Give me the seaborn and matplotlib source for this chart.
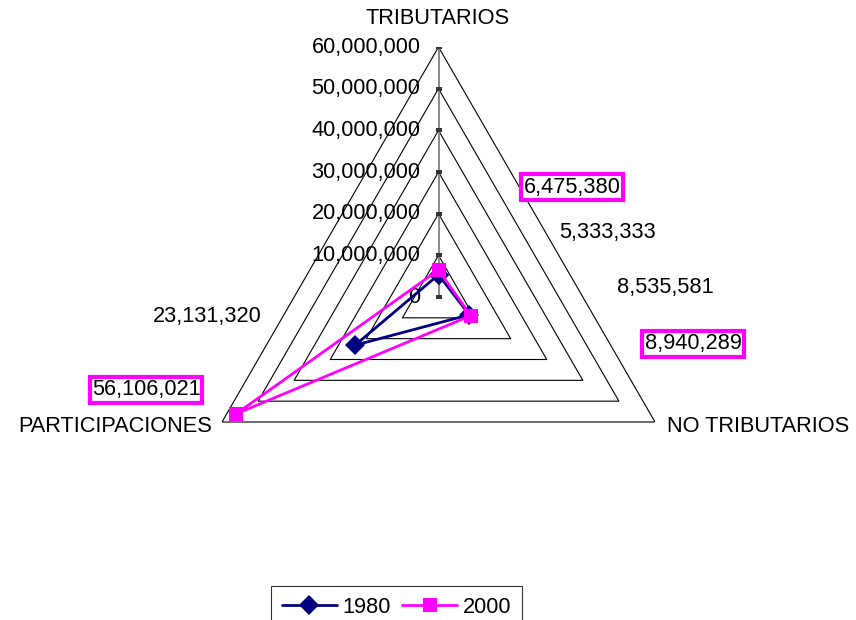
import numpy as np
import pandas as pd
import matplotlib
matplotlib.use("Agg")
import matplotlib.pyplot as plt
import seaborn as sns
from matplotlib.lines import Line2D

# ---- data ----
categories = ["TRIBUTARIOS", "NO TRIBUTARIOS", "PARTICIPACIONES"]
values_1980 = [5333333, 8535581, 23131320]
values_2000 = [6475380, 8940289, 56106021]
years = ["1980", "2000"]
grid_levels = [0, 10000000, 20000000, 30000000, 40000000, 50000000, 60000000]
grid_labels = ["0", "10,000,000", "20,000,000", "30,000,000", "40,000,000", "50,000,000", "60,000,000"]
label_1980 = ["5,333,333", "8,535,581", "23,131,320"]
label_2000 = ["6,475,380", "8,940,289", "56,106,021"]

sns.set_style("white")
plt.rcParams["font.family"] = ["Liberation Sans", "DejaVu Sans"]
plt.rcParams["text.color"] = "black"
FS = 15.7

W, H = 856, 620
fig = plt.figure(figsize=(W / 100, H / 100), dpi=100)
cx, cy, R = 438.5, 297.0, 250.0
ax = fig.add_axes([(cx - R) / W, (H - cy - R) / H, 2 * R / W, 2 * R / H], projection="polar")
ax.set_theta_zero_location("N")
ax.set_theta_direction(-1)
ax.set_ylim(0, grid_levels[-1])
ax.grid(False)
ax.spines["polar"].set_visible(False)
ax.set_xticks([])
ax.set_yticks([])
ax.patch.set_alpha(0)

n = len(categories)
angles = [2 * np.pi * i / n for i in range(n)]
closed_angles = angles + [2 * np.pi]

# triangular grid
for lvl in grid_levels[1:]:
    ax.plot(closed_angles, [lvl] * (n + 1), color="black", lw=0.8, zorder=1)

# vertical value axis
ax.plot([0, 0], [0, grid_levels[-1]], color="#808080", lw=1.3, zorder=1.5)
ax.plot([0] * len(grid_levels), grid_levels, ls="none", marker="_", ms=4,
        mew=1.5, color="#333333", zorder=1.6)
for lvl, lab in zip(grid_levels, grid_labels):
    ax.annotate(lab, xy=(0, lvl), xytext=(-18, 0), textcoords="offset pixels",
                ha="right", va="center", fontsize=FS, color="black",
                annotation_clip=False)

# series via seaborn
rows = []
for yr, vals in zip(years, [values_1980, values_2000]):
    for a, v in zip(closed_angles, vals + [vals[0]]):
        rows.append({"angle": a, "value": v, "year": yr})
df = pd.DataFrame(rows)
palette = {"1980": "#000080", "2000": "#FF00FF"}
markers = {"1980": "D", "2000": "s"}
sns.lineplot(data=df, x="angle", y="value", hue="year", style="year",
             palette=palette, markers=markers, dashes=False, sort=True,
             lw=2.0, markersize=10, markeredgewidth=0, ax=ax, legend=False,
             zorder=3)
ax.set_xlabel("")
ax.set_ylabel("")

# category labels
fig.text(438 / W, 1 - 18 / H, categories[0], ha="center", va="center", fontsize=FS)
fig.text(667 / W, 1 - 427 / H, categories[1], ha="left", va="center", fontsize=FS)
fig.text(212 / W, 1 - 426 / H, categories[2], ha="right", va="center", fontsize=FS)

# data labels
pos_1980 = [(608, 232), (665, 287), (207, 317)]
pos_2000 = [(572, 187), (693, 344), (146, 390)]
for lab, (x, y) in zip(label_1980, pos_1980):
    fig.text(x / W, 1 - y / H, lab, ha="center", va="center", fontsize=FS)
for lab, (x, y) in zip(label_2000, pos_2000):
    fig.text(x / W, 1 - y / H, lab, ha="center", va="center", fontsize=FS,
             bbox=dict(boxstyle="square,pad=0.1", fc="white", ec="#FF00FF", lw=3))

# legend
handles = [Line2D([], [], color=palette[y], marker=markers[y], lw=2.0, ms=10, mew=0)
           for y in years]
leg = fig.legend(handles, years, loc="upper center",
                 bbox_to_anchor=(396.5 / W, 1 - 586 / H), ncol=2, frameon=True,
                 fancybox=False, edgecolor="black", fontsize=FS, handlelength=2.5,
                 handletextpad=0.25, columnspacing=0.55, borderpad=0.5,
                 borderaxespad=0)
leg.get_frame().set_linewidth(0.8)
for t in leg.get_texts():
    t.set_color("black")

fig.savefig("out.png", dpi=100, facecolor="white")
